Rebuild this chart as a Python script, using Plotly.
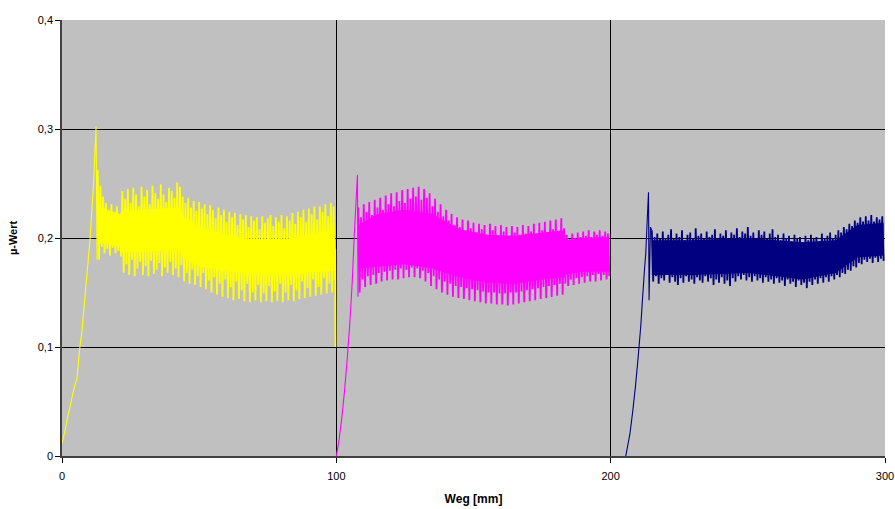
import plotly.graph_objects as go

# ---------------- data ----------------
# Ramp-up (run-in) segments of each run: Weg [mm], µ-Wert
yellow_ramp_x = [0, 1, 2, 3, 4, 5, 5.4, 6.6, 7.3, 8.5, 10.2, 11.5, 12.4, 12.8, 13]
yellow_ramp_y = [0.012, 0.022, 0.035, 0.046, 0.058, 0.068, 0.070, 0.102, 0.115, 0.150, 0.198, 0.250, 0.302, 0.180, 0.262]

# spike tops (at integer mm) and bottoms (half a mm later)
yellow_start = 13
yellow_hi = [0.262, 0.248, 0.238, 0.232, 0.226, 0.231, 0.224, 0.229, 0.222, 0.243,
             0.236, 0.245, 0.232, 0.246, 0.240, 0.229, 0.247, 0.238, 0.244, 0.231,
             0.248, 0.241, 0.236, 0.249, 0.240, 0.233, 0.246, 0.243, 0.237, 0.251,
             0.247, 0.238, 0.232, 0.237, 0.228, 0.234, 0.225, 0.233, 0.227, 0.231,
             0.222, 0.230, 0.226, 0.218, 0.228, 0.221, 0.226, 0.215, 0.224, 0.219,
             0.223, 0.212, 0.222, 0.217, 0.221, 0.210, 0.220, 0.216, 0.219, 0.208,
             0.220, 0.214, 0.218, 0.221, 0.211, 0.219, 0.215, 0.221, 0.209, 0.220,
             0.216, 0.223, 0.213, 0.224, 0.219, 0.226, 0.215, 0.227, 0.222, 0.229,
             0.217, 0.229, 0.224, 0.231, 0.220, 0.232, 0.229]
yellow_lo = [0.180, 0.192, 0.186, 0.190, 0.184, 0.191, 0.186, 0.188, 0.183, 0.168,
             0.176, 0.166, 0.180, 0.165, 0.172, 0.178, 0.166, 0.174, 0.165, 0.179,
             0.167, 0.171, 0.177, 0.165, 0.173, 0.168, 0.178, 0.166, 0.172, 0.164,
             0.175, 0.160, 0.168, 0.158, 0.171, 0.157, 0.165, 0.155, 0.168, 0.153,
             0.161, 0.150, 0.164, 0.148, 0.158, 0.146, 0.162, 0.145, 0.155, 0.143,
             0.160, 0.144, 0.152, 0.142, 0.158, 0.141, 0.150, 0.143, 0.157, 0.141,
             0.149, 0.142, 0.156, 0.141, 0.151, 0.142, 0.158, 0.141, 0.150, 0.143,
             0.157, 0.142, 0.152, 0.144, 0.160, 0.145, 0.154, 0.146, 0.162, 0.147,
             0.155, 0.148, 0.163, 0.149, 0.158, 0.150, 0.162]
yellow_tail_x = [99.6, 99.7]
yellow_tail_y = [0.190, 0.100]
# dense core of the yellow band
yellow_core_x = [13, 16, 21, 22, 30, 43, 44, 50, 60, 70, 80, 90, 99]
yellow_core_top = [0.232, 0.226, 0.222, 0.225, 0.226, 0.228, 0.220, 0.210, 0.203, 0.198, 0.198, 0.203, 0.207]
yellow_core_bot = [0.195, 0.195, 0.192, 0.187, 0.188, 0.189, 0.182, 0.174, 0.170, 0.167, 0.166, 0.168, 0.170]

magenta_ramp_x = [100, 101, 102, 103, 104, 105, 105.8, 106.5, 107.2, 107.7, 107.9, 108]
magenta_ramp_y = [0.0, 0.015, 0.035, 0.060, 0.090, 0.125, 0.160, 0.200, 0.235, 0.258, 0.146, 0.228]
magenta_start = 108
magenta_hi = [0.228, 0.219, 0.231, 0.224, 0.233, 0.221, 0.235, 0.228, 0.237, 0.226,
              0.239, 0.231, 0.241, 0.229, 0.242, 0.234, 0.244, 0.232, 0.245, 0.236,
              0.246, 0.238, 0.247, 0.235, 0.245, 0.237, 0.241, 0.229, 0.236, 0.224,
              0.231, 0.220, 0.226, 0.216, 0.222, 0.212, 0.219, 0.210, 0.217, 0.207,
              0.216, 0.209, 0.214, 0.205, 0.213, 0.208, 0.212, 0.203, 0.213, 0.207,
              0.211, 0.202, 0.212, 0.206, 0.210, 0.201, 0.211, 0.205, 0.210, 0.203,
              0.212, 0.204, 0.211, 0.206, 0.213, 0.204, 0.214, 0.207, 0.215, 0.205,
              0.216, 0.208, 0.217, 0.206, 0.218, 0.209, 0.203, 0.199, 0.204, 0.200,
              0.205, 0.201, 0.206, 0.202, 0.207, 0.201, 0.206, 0.203, 0.207, 0.202,
              0.206, 0.204]
magenta_lo = [0.150, 0.162, 0.155, 0.165, 0.157, 0.166, 0.158, 0.168, 0.160, 0.169,
              0.161, 0.170, 0.162, 0.171, 0.162, 0.172, 0.163, 0.171, 0.164, 0.173,
              0.164, 0.172, 0.163, 0.170, 0.160, 0.168, 0.156, 0.165, 0.153, 0.162,
              0.150, 0.160, 0.148, 0.158, 0.146, 0.156, 0.145, 0.155, 0.144, 0.154,
              0.143, 0.153, 0.142, 0.152, 0.141, 0.151, 0.140, 0.150, 0.140, 0.150,
              0.139, 0.149, 0.139, 0.149, 0.138, 0.150, 0.139, 0.150, 0.140, 0.151,
              0.141, 0.152, 0.142, 0.153, 0.143, 0.154, 0.144, 0.155, 0.145, 0.156,
              0.146, 0.157, 0.147, 0.158, 0.148, 0.158, 0.156, 0.162, 0.157, 0.163,
              0.158, 0.164, 0.159, 0.165, 0.160, 0.166, 0.160, 0.167, 0.161, 0.166,
              0.162, 0.165]
magenta_core_x = [108, 115, 125, 135, 145, 155, 165, 175, 183, 184, 190, 199.5]
magenta_core_top = [0.212, 0.222, 0.226, 0.222, 0.208, 0.203, 0.202, 0.205, 0.207, 0.198, 0.200, 0.201]
magenta_core_bot = [0.172, 0.174, 0.176, 0.172, 0.164, 0.159, 0.158, 0.162, 0.164, 0.167, 0.169, 0.169]

navy_ramp_x = [205.5, 207, 208, 209, 210, 211, 211.5, 212.3, 212.8, 213.3, 213.8, 214.0, 214.5, 215]
navy_ramp_y = [0.0, 0.020, 0.040, 0.063, 0.090, 0.120, 0.140, 0.170, 0.186, 0.215, 0.242, 0.143, 0.210, 0.207]
navy_start = 215
navy_hi = [0.207, 0.201, 0.204, 0.199, 0.206, 0.200, 0.203, 0.208, 0.199, 0.204,
           0.201, 0.207, 0.198, 0.203, 0.205, 0.200, 0.209, 0.202, 0.204, 0.199,
           0.206, 0.201, 0.203, 0.208, 0.200, 0.204, 0.202, 0.207, 0.199, 0.205,
           0.203, 0.209, 0.201, 0.206, 0.204, 0.210, 0.202, 0.205, 0.200, 0.207,
           0.203, 0.206, 0.199, 0.204, 0.208, 0.201, 0.203, 0.198, 0.204, 0.200,
           0.202, 0.197, 0.203, 0.199, 0.201, 0.196, 0.202, 0.198, 0.203, 0.199,
           0.201, 0.197, 0.204, 0.199, 0.202, 0.205, 0.200, 0.203, 0.207, 0.205,
           0.210, 0.208, 0.213, 0.211, 0.216, 0.214, 0.219, 0.215, 0.220, 0.216,
           0.221, 0.215, 0.219, 0.217, 0.220]
navy_lo = [0.160, 0.165, 0.158, 0.163, 0.161, 0.166, 0.159, 0.164, 0.160, 0.157,
           0.163, 0.159, 0.165, 0.160, 0.162, 0.158, 0.164, 0.161, 0.159, 0.165,
           0.160, 0.163, 0.157, 0.162, 0.159, 0.164, 0.158, 0.161, 0.156, 0.163,
           0.160, 0.165, 0.162, 0.166, 0.161, 0.164, 0.160, 0.165, 0.161, 0.163,
           0.159, 0.164, 0.160, 0.162, 0.158, 0.163, 0.159, 0.161, 0.156, 0.162,
           0.158, 0.160, 0.155, 0.161, 0.157, 0.159, 0.154, 0.160, 0.157, 0.162,
           0.158, 0.163, 0.159, 0.164, 0.160, 0.165, 0.162, 0.166, 0.164, 0.168,
           0.167, 0.171, 0.170, 0.174, 0.173, 0.177, 0.176, 0.180, 0.178, 0.181,
           0.177, 0.182, 0.178, 0.181, 0.179]
navy_core_x = [215, 230, 250, 270, 282, 290, 299.5]
navy_core_top = [0.198, 0.198, 0.200, 0.196, 0.198, 0.212, 0.214]
navy_core_bot = [0.166, 0.166, 0.168, 0.162, 0.168, 0.182, 0.184]

x_ticks = [0, 100, 200, 300]
y_ticks = [0, 0.1, 0.2, 0.3, 0.4]
x_title = "Weg [mm]"
y_title = "µ-Wert"


def build(start, hi, lo, tail_x=(), tail_y=()):
    xs, ys = [], []
    for i, (h, l) in enumerate(zip(hi, lo)):
        xs += [start + i, start + i + 0.5]
        ys += [h, l]
    xs += list(tail_x)
    ys += list(tail_y)
    return xs, ys


series = [
    ((yellow_ramp_x, yellow_ramp_y),
     build(yellow_start, yellow_hi, yellow_lo, yellow_tail_x, yellow_tail_y),
     (yellow_core_x, yellow_core_top, yellow_core_bot), "#FFFF00"),
    ((magenta_ramp_x, magenta_ramp_y),
     build(magenta_start, magenta_hi, magenta_lo),
     (magenta_core_x, magenta_core_top, magenta_core_bot), "#FF00FF"),
    ((navy_ramp_x, navy_ramp_y),
     build(navy_start, navy_hi, navy_lo),
     (navy_core_x, navy_core_top, navy_core_bot), "#000080"),
]

fig = go.Figure()
for (rx, ry), (xs, ys), (cx, ct, cb), col in series:
    # dense core of the oscillation band
    fig.add_trace(go.Scatter(x=list(cx) + list(cx)[::-1], y=list(ct) + list(cb)[::-1],
                             mode="lines", fill="toself", fillcolor=col,
                             line=dict(width=0, color=col), showlegend=False,
                             hoverinfo="skip"))
    # measured signal with its spikes
    fig.add_trace(go.Scatter(x=xs, y=ys, mode="lines",
                             line=dict(color=col, width=1.8, simplify=False),
                             showlegend=False, hoverinfo="skip"))
    # run-in ramp
    fig.add_trace(go.Scatter(x=rx, y=ry, mode="lines",
                             line=dict(color=col, width=1.1, simplify=False),
                             showlegend=False, hoverinfo="skip"))

font_family = "Liberation Sans, Arial, sans-serif"
fig.update_layout(
    width=895, height=509,
    margin=dict(l=62, r=10, t=20, b=53),
    paper_bgcolor="white",
    plot_bgcolor="#C0C0C0",
    separators=",.",
    font=dict(family=font_family, size=11, color="black"),
    showlegend=False,
)
fig.update_xaxes(
    range=[0, 300], tickvals=x_ticks, ticks="outside", ticklen=5, tickcolor="black",
    showgrid=True, gridcolor="black", gridwidth=1, automargin=False,
    showline=True, linecolor="#404040", linewidth=1.5, zeroline=False,
    tickfont=dict(size=11), ticklabelstandoff=4,
    title=dict(text="<b>" + x_title + "</b>", font=dict(size=12), standoff=14),
)
fig.update_yaxes(
    range=[0, 0.4], tickvals=y_ticks, ticks="outside", ticklen=5, tickcolor="black",
    showgrid=True, gridcolor="black", gridwidth=1, automargin=False,
    showline=True, linecolor="#404040", linewidth=1.5, zeroline=False,
    tickfont=dict(size=11),
    title=dict(text="<b>" + y_title + "</b>", font=dict(size=11), standoff=18),
)

fig.write_html("out.html")
